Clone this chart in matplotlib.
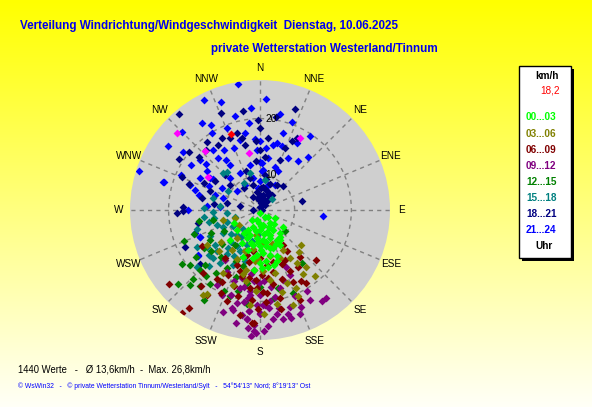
import numpy as np
import matplotlib
matplotlib.use("Agg")
import matplotlib.pyplot as plt
from matplotlib import font_manager
from matplotlib.patches import Rectangle

# Windrichtung (Grad) und Windgeschwindigkeit (km/h) je 3-Stunden-Block
lime_dir = [180, 143, 198, 168, 143, 202, 180, 163, 146, 139, 202, 187, 174, 160, 151, 191, 180, 170, 161, 150,
            176, 167, 184, 160, 173, 166, 180, 143, 210, 220, 229, 225, 209, 243, 129, 119, 126, 146, 172, 178,
            169, 185, 175, 192, 170, 158, 184, 196, 165, 155, 188, 196, 205, 215, 135, 152, 178, 162, 186, 200, 172]
lime_kmh = [4.5, 5.4, 5.7, 6.6, 6.8, 7.1, 7.4, 7.9, 8.1, 9.3, 8.6, 8.9, 9.2, 9.2, 9.9, 10.1, 10.3, 10.4, 11.0, 11.0,
            11.5, 12.0, 11.8, 12.6, 13.0, 13.8, 13.3, 9.8, 8.0, 6.2, 9.3, 11.3, 10.6, 9.1, 5.8, 6.9, 8.9, 10.2, 14.0, 14.1,
            9.6, 6.2, 6.8, 7.6, 8.2, 8.6, 9.6, 9.9, 10.8, 10.5, 12.4, 11.3, 9.4, 8.8, 7.4, 7.2, 10.9, 13.4, 14.6, 12.8, 7.0]

olive_dir = [130, 137, 141, 146, 140, 156, 148, 158, 167, 161, 177, 160, 186, 170, 191, 155, 214, 212, 255, 252,
             235, 186, 237, 200, 193, 175, 190, 200, 168, 182, 205, 215, 195, 172, 183, 160, 150, 225, 210, 178,
             165, 145, 188, 220, 230]
olive_kmh = [13.4, 14.1, 16.9, 17.5, 19.0, 20.4, 13.9, 13.1, 15.3, 21.6, 14.7, 17.6, 13.0, 20.8, 16.7, 19.1, 22.0, 21.4, 10.6, 8.5,
             8.5, 20.7, 15.1, 17.9, 14.7, 9.5, 10.8, 11.6, 12.2, 12.6, 13.5, 12.4, 15.6, 16.4, 18.2, 10.2, 12.0, 14.2, 16.8, 22.3,
             18.8, 15.4, 8.4, 10.3, 12.8]

maroon_dir = [231, 217, 216, 218, 238, 212, 208, 206, 199, 195, 187, 183, 178, 183, 173, 203, 200, 191, 216,
              132, 148, 146, 146, 147, 154, 155, 156, 168, 173, 180, 189, 189, 182, 167, 175, 166, 153, 184,
              192, 198, 186, 178, 170, 162, 158, 176, 194, 205, 212, 222, 185, 168, 150, 140, 196, 181]
maroon_kmh = [24.5, 26.6, 25.2, 20.9, 16.0, 18.3, 18.2, 16.6, 18.1, 16.0, 17.8, 16.2, 18.3, 23.8, 13.6, 14.4, 21.0, 22.7, 14.4,
              17.1, 19.1, 16.0, 11.3, 12.6, 15.9, 17.8, 21.2, 15.0, 16.0, 12.4, 11.3, 16.1, 17.7, 19.8, 18.6, 13.3, 13.7, 23.8,
              13.2, 15.2, 14.6, 15.3, 17.2, 16.6, 14.2, 20.2, 19.6, 20.1, 21.6, 18.9, 19.8, 21.8, 18.4, 14.8, 12.1, 21.3]

purple_dir = [215, 208, 200, 199, 194, 190, 186, 182, 180, 178, 182, 187, 195, 194, 187, 180, 177, 186, 185, 177, 195, 196,
              143, 146, 151, 159, 173, 168, 183, 164, 157, 163, 169, 171, 180, 186, 187, 183, 178, 174, 187, 192, 155, 155,
              162, 158, 150, 166, 181, 188, 190, 175, 170, 184, 176, 165, 192, 200, 204, 210, 188, 172]
purple_kmh = [14.6, 16.2, 17.3, 19.7, 18.1, 20.3, 21.8, 20.6, 22.3, 25.2, 25.6, 23.3, 22.1, 20.8, 18.9, 18.8, 20.6, 24.8, 16.5, 16.5, 16.3, 21.8,
              23.3, 23.3, 22.0, 23.6, 23.3, 23.6, 25.3, 23.7, 22.4, 21.7, 21.5, 22.5, 22.0, 21.8, 23.3, 24.1, 20.6, 20.1, 18.3, 17.7, 14.9, 16.5,
              16.8, 20.3, 20.4, 18.1, 16.8, 19.5, 22.6, 21.2, 19.4, 26.1, 24.3, 22.8, 24.2, 23.1, 20.2, 19.2, 15.2, 17.6]

green_dir = [232, 224, 218, 223, 214, 219, 225, 236, 234, 215, 209, 204, 199, 195, 239, 258, 225,
             130, 142, 158, 167, 180, 188, 171, 215, 228, 240, 205, 220, 230, 245, 250, 210, 200,
             235, 228, 212, 197, 185, 190, 248, 260]
green_kmh = [19.5, 20.9, 21.0, 21.9, 19.7, 18.9, 18.8, 15.9, 17.9, 17.5, 18.3, 19.6, 20.0, 18.7, 14.1, 12.3, 17.5,
             9.6, 15.8, 19.6, 18.0, 17.4, 20.7, 19.6, 11.5, 12.8, 11.2, 13.8, 14.6, 15.2, 13.5, 16.2, 15.6, 16.4,
             20.6, 23.4, 22.6, 14.2, 12.6, 16.9, 18.4, 14.8]

teal_dir = [257, 251, 238, 242, 232, 223, 223, 222, 217, 217, 206, 224, 229, 206, 196, 208, 228, 263, 260, 253,
            48, 272, 268, 315, 319, 230, 215, 205, 240, 250, 212, 200, 195, 220, 235, 245, 210, 226, 190, 185,
            255, 265, 275, 285, 300, 330, 345, 10, 240, 222]
teal_kmh = [13.2, 11.9, 11.5, 13.8, 13.9, 11.5, 9.9, 8.3, 13.7, 15.6, 14.6, 15.7, 15.9, 12.0, 13.3, 16.2, 18.8, 13.9, 12.2, 15.5,
            6.7, 13.8, 12.1, 13.0, 12.8, 10.6, 9.6, 8.8, 9.4, 10.0, 11.4, 10.5, 9.6, 12.6, 15.2, 11.0, 13.2, 14.4, 11.2, 8.2,
            8.5, 9.8, 11.0, 12.4, 10.5, 9.4, 10.6, 9.2, 16.8, 17.2]

navy_dir = [19, 359, 10, 0, 22, 25, 27, 6, 0, 22, 8, 34, 44, 28, 350, 78,
            320, 338, 350, 343, 346, 322, 302, 309, 311, 318, 327, 332, 337, 347, 357, 293, 290, 296, 291, 303,
            315, 310, 323, 343, 282, 277, 282, 281, 272, 272,
            352, 12, 45, 0, 12, 18, 40, 350, 8, 21, 90, 333, 38,
            268, 269, 258, 244, 228,
            5, 15, 355, 25, 3, 345, 12, 0, 30, 340, 355, 5]
navy_kmh = [22.7, 19.7, 20.5, 18.3, 15.6, 17.4, 18.1, 16.6, 14.4, 13.4, 10.1, 9.2, 9.7, 6.9, 6.0, 11.4,
            26.0, 22.4, 21.6, 18.0, 16.9, 19.2, 20.8, 20.0, 18.2, 18.2, 17.5, 18.2, 17.6, 15.7, 16.0, 18.8, 17.2, 14.9, 13.3, 13.3,
            12.6, 10.8, 8.7, 9.8, 14.3, 12.1, 9.9, 7.5, 5.1, 17.4,
            6.0, 5.4, 5.1, 4.5, 6.6, 7.6, 6.2, 7.2, 8.0, 8.9, 4.2, 6.5, 7.2,
            18.5, 17.4, 15.0, 18.6, 18.2,
            5.2, 6.1, 5.6, 7.4, 7.8, 8.4, 9.4, 6.6, 5.5, 11.2, 12.6, 13.2]

blue_dir = [350, 288, 286, 250, 246, 234, 95,
            0, 6, 9, 11, 14, 19, 17, 28, 29, 38, 19, 25, 4, 0, 18, 31, 2,
            326, 330, 315, 307, 305, 286, 294, 328, 322, 329, 337, 344, 353, 355, 356, 357, 347, 332, 317, 300,
            304, 295, 298, 306, 287, 290, 284, 289, 288, 309, 329, 348, 356, 3, 0, 275, 274, 326, 326, 321, 349,
            310, 310, 303, 303, 270, 246, 233,
            340, 333, 3, 12, 20, 34, 42, 345, 338]
blue_kmh = [26.5, 26.4, 21.6, 16.0, 15.5, 17.4, 15.1,
            16.0, 14.8, 13.1, 15.5, 16.0, 15.8, 18.0, 14.3, 17.3, 14.8, 12.0, 11.4, 11.0, 9.0, 8.5, 9.0, 12.2,
            22.3, 21.2, 23.4, 20.8, 23.7, 21.5, 19.2, 19.9, 17.3, 16.3, 15.7, 16.7, 19.3, 21.9, 16.5, 14.5, 12.0, 11.3, 11.6, 11.6,
            13.8, 13.9, 15.8, 15.5, 15.8, 17.0, 15.0, 12.2, 10.7, 9.1, 9.1, 9.6, 7.8, 10.7, 12.4, 10.9, 13.3, 14.5, 13.4, 15.6, 17.7,
            17.6, 16.4, 18.3, 14.3, 16.5, 15.4, 17.5,
            24.2, 25.6, 23.4, 21.2, 20.4, 19.6, 16.5, 21.0, 19.5]

magenta_dir = [313, 317, 349, 29, 302]
magenta_kmh = [23.9, 18.1, 14.1, 18.5, 14.8]
current_dir = [339]
current_kmh = [18.2]

directions = ["N", "NNE", "NE", "ENE", "E", "ESE", "SE", "SSE",
              "S", "SSW", "SW", "WSW", "W", "WNW", "NW", "NNW"]
legend_labels = ["00...03", "03...06", "06...09", "09...12", "12...15", "15...18", "18...21", "21...24"]
legend_colors = ["#00ff00", "#808000", "#800000", "#800080", "#008000", "#008080", "#000080", "#0000ff"]

# Schrift: schmale Arial-Variante wenn vorhanden
names = {f.name for f in font_manager.fontManager.ttflist}
if "Liberation Sans Narrow" in names:
    fam = "Liberation Sans Narrow"
    k = 1.0
else:
    fam = "Liberation Sans"
    k = 0.82
plt.rcParams["font.family"] = [fam, "DejaVu Sans"]

W, H = 592, 407
fig = plt.figure(figsize=(W / 100, H / 100), dpi=100)


def fx(x):
    return x / W


def fy(y):
    return 1 - y / H


# Hintergrund-Verlauf gelb -> hellgelb
bg = fig.add_axes([0, 0, 1, 1])
bg.set_zorder(-5)
grad = np.ones((256, 1, 3))
grad[:, 0, 2] = np.linspace(0.0, 0.97, 256)
bg.imshow(grad, aspect="auto", extent=[0, 1, 0, 1])
bg.axis("off")

# Polardiagramm
rmin, rmax = 3.9, 26.8
ax = fig.add_axes([fx(130), fy(340), 260 / W, 260 / H], projection="polar")
ax.set_theta_zero_location("N")
ax.set_theta_direction(-1)
ax.set_facecolor("#cfcfcf")
ax.spines["polar"].set_visible(False)
ax.set_rlim(rmin, rmax)
ax.set_xticks(np.radians(np.arange(0, 360, 22.5)))
ax.set_xticklabels([])
ax.set_yticks([10, 20])
ax.set_yticklabels([])
ax.grid(True, color="#808080", linestyle=(0, (3, 3)), linewidth=1)
ax.tick_params(axis="both", length=0)

groups = [(blue_dir, blue_kmh, "#0000ff"), (navy_dir, navy_kmh, "#000080"),
          (teal_dir, teal_kmh, "#008080"), (green_dir, green_kmh, "#008000"),
          (purple_dir, purple_kmh, "#800080"), (maroon_dir, maroon_kmh, "#800000"),
          (olive_dir, olive_kmh, "#808000"), (lime_dir, lime_kmh, "#00ff00"),
          (magenta_dir, magenta_kmh, "#ff00ff"), (current_dir, current_kmh, "#ff0000")]
for d, v, c in groups:
    ax.scatter(np.radians(d), v, marker="D", s=16, color=c, linewidths=0, zorder=3)

r_lab = rmin + 1.09 * (rmax - rmin)
for i, name in enumerate(directions):
    ax.text(np.radians(i * 22.5), r_lab, name, ha="center", va="center",
            fontsize=8.8 * k, color="black", clip_on=False)
for val in [10, 20]:
    ax.annotate(str(val), (0, val), xytext=(4, 0), textcoords="offset points",
                ha="left", va="center", fontsize=9 * k, zorder=4)

# Titel
fig.text(fx(20), fy(25.5), "Verteilung Windrichtung/Windgeschwindigkeit  Dienstag, 10.06.2025",
         ha="left", va="center", fontsize=10.2 * k, fontweight="bold", color="#0000ee")
fig.text(fx(211), fy(49), "private Wetterstation Westerland/Tinnum",
         ha="left", va="center", fontsize=10.2 * k, fontweight="bold", color="#0000ee")

# Legende
fig.add_artist(Rectangle((fx(522), fy(261)), 52 / W, 192 / H, transform=fig.transFigure,
                         facecolor="black", edgecolor="none", zorder=1))
fig.add_artist(Rectangle((fx(519), fy(258)), 52 / W, 192 / H, transform=fig.transFigure,
                         facecolor="white", edgecolor="black", linewidth=1, zorder=2))
fig.text(fx(547), fy(75.7), "km/h", ha="center", va="center", fontsize=8.8 * k,
         fontweight="bold", color="black")
fig.text(fx(560), fy(90.7), "18,2", ha="right", va="center", fontsize=8.8 * k, color="#ff0000")
ys = [117.3, 134, 150, 166, 182, 197.7, 214, 230]
for lab, col, y in zip(legend_labels, legend_colors, ys):
    fig.text(fx(526), fy(y), lab, ha="left", va="center", fontsize=8.8 * k,
             fontweight="bold", color=col)
fig.text(fx(544), fy(246.3), "Uhr", ha="center", va="center", fontsize=8.8 * k,
         fontweight="bold", color="black")

# Fusszeilen
fig.text(fx(18), fy(369.5), "1440 Werte   -   Ø 13,6km/h  -  Max. 26,8km/h",
         ha="left", va="center", fontsize=8.4 * k, color="black")
fig.text(fx(18), fy(386), "© WsWin32   -   © private Wetterstation Tinnum/Westerland/Sylt   -   "
         "54°54'13\" Nord; 8°19'13\" Ost",
         ha="left", va="center", fontsize=5.9 * k, color="#0000ff")

fig.savefig("out.png", dpi=100)
